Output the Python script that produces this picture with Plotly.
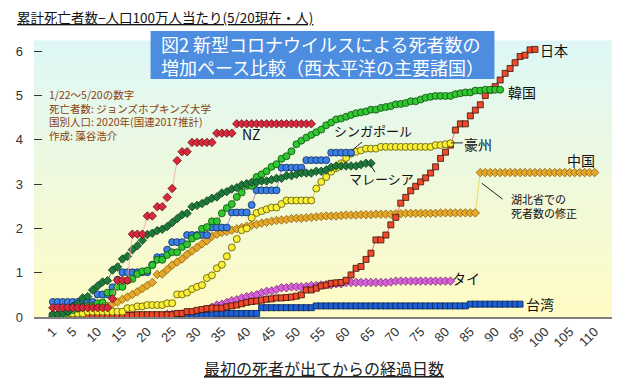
import plotly.graph_objects as go

# ---------------- data (deaths per million, by day since first death) ----------------
japan = [0.01, 0.01, 0.01, 0.01, 0.01, 0.01, 0.01, 0.01, 0.01, 0.01,
         0.01, 0.01, 0.01, 0.02, 0.03, 0.03, 0.04, 0.05, 0.05, 0.05,
         0.05, 0.05, 0.05, 0.05, 0.05, 0.08, 0.08, 0.12, 0.12, 0.15,
         0.17, 0.19, 0.20, 0.20, 0.20, 0.23, 0.25, 0.27, 0.30, 0.33,
         0.35, 0.36, 0.38, 0.40, 0.41, 0.43, 0.43, 0.44, 0.45, 0.47,
         0.50, 0.61, 0.61, 0.65, 0.70, 0.72, 0.76, 0.77, 0.78, 0.83,
         0.95, 1.10, 1.14, 1.30, 1.44, 1.74, 1.74, 1.85, 2.08, 2.25,
         2.57, 2.70, 2.85, 2.95, 3.05, 3.14, 3.25, 3.39, 3.58, 3.72,
         3.88, 4.22, 4.36, 4.36, 4.54, 4.67, 4.79, 5.00, 5.12, 5.20,
         5.35, 5.50, 5.61, 5.74, 5.88, 5.91, 6.03, 6.04]

korea = [0.02, 0.04, 0.04, 0.12, 0.16, 0.19, 0.23, 0.25, 0.25, 0.31,
         0.33, 0.55, 0.55, 0.68, 0.68, 0.82, 0.86, 0.97, 1.03, 1.05,
         1.17, 1.29, 1.29, 1.40, 1.46, 1.46, 1.58, 1.64, 1.77, 1.83,
         1.99, 2.03, 2.16, 2.16, 2.34, 2.46, 2.55, 2.71, 2.81, 2.96,
         2.96, 3.16, 3.22, 3.29, 3.39, 3.45, 3.57, 3.63, 3.74, 3.90,
         3.98, 4.05, 4.11, 4.17, 4.23, 4.33, 4.39, 4.46, 4.48, 4.52,
         4.56, 4.60, 4.62, 4.64, 4.68, 4.68, 4.72, 4.74, 4.76, 4.80,
         4.81, 4.83, 4.87, 4.87, 4.91, 4.95, 4.97, 4.99, 4.99, 4.99,
         4.99, 5.03, 5.05, 5.07, 5.07, 5.11, 5.11, 5.13, 5.13, 5.13, 5.13]

singapore = [0.34, 0.34, 0.34, 0.34, 0.34, 0.34, 0.34, 0.34, 0.34, 0.51,
             0.51, 0.51, 0.67, 0.84, 1.01, 1.01, 1.01, 1.01, 1.01, 1.01,
             1.18, 1.35, 1.35, 1.52, 1.69, 1.69, 1.69, 1.85, 1.85, 1.85,
             1.85, 1.85, 2.02, 2.02, 2.02, 2.02, 2.36, 2.36, 2.36, 2.36,
             2.53, 2.86, 2.86, 2.86, 2.86, 2.86, 3.37, 3.37, 3.37, 3.37,
             3.37, 3.54, 3.54, 3.54, 3.54, 3.54, 3.71, 3.71, 3.71, 3.71, 3.71]

australia = [0.04, 0.04, 0.04, 0.08, 0.08, 0.08, 0.08, 0.12, 0.12, 0.12,
             0.12, 0.12, 0.12, 0.12, 0.12, 0.20, 0.20, 0.24, 0.24, 0.27,
             0.27, 0.27, 0.27, 0.31, 0.31, 0.51, 0.51, 0.55, 0.63, 0.68,
             0.72, 0.88, 0.94, 1.10, 1.18, 1.37, 1.57, 1.76, 1.96, 2.00,
             2.24, 2.35, 2.39, 2.43, 2.47, 2.47, 2.55, 2.63, 2.63, 2.63,
             2.63, 2.63, 2.63, 2.90, 3.05, 3.16, 3.28, 3.36, 3.47, 3.59,
             3.69, 3.73, 3.76, 3.80, 3.80, 3.80, 3.84, 3.84, 3.84, 3.84,
             3.84, 3.84, 3.84, 3.84, 3.84, 3.84, 3.84, 3.88, 3.88, 3.90, 3.92]

malaysia = [0.06, 0.06, 0.09, 0.12, 0.24, 0.30, 0.43, 0.46, 0.61, 0.70,
            0.79, 0.82, 1.06, 1.13, 1.31, 1.37, 1.52, 1.61, 1.73, 1.86,
            1.89, 1.95, 1.98, 2.04, 2.13, 2.22, 2.31, 2.34, 2.49, 2.52,
            2.56, 2.62, 2.68, 2.71, 2.80, 2.83, 2.89, 2.92, 2.98, 3.01,
            3.04, 3.04, 3.07, 3.07, 3.10, 3.13, 3.13, 3.19, 3.19, 3.22,
            3.25, 3.25, 3.25, 3.29, 3.29, 3.32, 3.38, 3.41, 3.41, 3.41,
            3.41, 3.41, 3.44, 3.47, 3.47]

nz = [0.21, 0.21, 0.21, 0.21, 0.21, 0.21, 0.21, 0.21, 0.21, 0.21,
      0.21, 0.21, 0.41, 0.83, 0.83, 0.83, 1.87, 1.87, 1.87, 2.28,
      2.28, 2.49, 2.49, 2.70, 2.90, 3.53, 3.73, 3.73, 3.94, 3.94,
      3.94, 3.94, 3.94, 4.15, 4.15, 4.15, 4.15, 4.36, 4.36, 4.36,
      4.36, 4.36, 4.36, 4.36, 4.36, 4.36, 4.36, 4.36, 4.36, 4.36,
      4.36, 4.36, 4.36]

china = [0.01, 0.01, 0.02, 0.03, 0.04, 0.06, 0.09, 0.09, 0.12, 0.15,
         0.18, 0.25, 0.30, 0.34, 0.40, 0.45, 0.51, 0.57, 0.64, 0.71,
         0.78, 0.96, 0.97, 1.07, 1.17, 1.24, 1.31, 1.41, 1.49, 1.57,
         1.65, 1.72, 1.82, 1.87, 1.91, 1.93, 1.96, 1.99, 2.02, 2.05,
         2.07, 2.09, 2.12, 2.14, 2.16, 2.18, 2.19, 2.20, 2.22, 2.23,
         2.23, 2.24, 2.25, 2.26, 2.27, 2.28, 2.28, 2.28, 2.29, 2.30,
         2.30, 2.30, 2.31, 2.31, 2.31, 2.32, 2.32, 2.32, 2.32, 2.33,
         2.33, 2.34, 2.34, 2.34, 2.34, 2.34, 2.34, 2.34, 2.35, 2.35,
         2.35, 2.35, 2.35, 2.35, 2.35, 2.35, 3.26, 3.26, 3.26, 3.26,
         3.26, 3.26, 3.26, 3.26, 3.26, 3.26, 3.26, 3.26, 3.26, 3.26,
         3.26, 3.26, 3.26, 3.26, 3.26, 3.26, 3.26, 3.26, 3.26, 3.26]

thailand = [0.01, 0.01, 0.01, 0.01, 0.01, 0.01, 0.01, 0.01, 0.01, 0.01,
            0.01, 0.01, 0.01, 0.01, 0.01, 0.01, 0.01, 0.01, 0.01, 0.01,
            0.01, 0.01, 0.01, 0.06, 0.06, 0.06, 0.07, 0.09, 0.10, 0.10,
            0.14, 0.17, 0.22, 0.27, 0.29, 0.33, 0.37, 0.39, 0.43, 0.46,
            0.48, 0.50, 0.55, 0.58, 0.59, 0.62, 0.66, 0.66, 0.68, 0.68,
            0.68, 0.69, 0.71, 0.71, 0.72, 0.73, 0.73, 0.75, 0.75, 0.78,
            0.78, 0.78, 0.78, 0.78, 0.78, 0.78, 0.78, 0.78, 0.79, 0.81,
            0.81, 0.81, 0.81, 0.81, 0.81, 0.81, 0.81, 0.81, 0.81, 0.81, 0.81]

taiwan = [0.04, 0.04, 0.04, 0.04, 0.04, 0.04, 0.04, 0.04, 0.04, 0.04,
          0.04, 0.04, 0.04, 0.04, 0.04, 0.04, 0.04, 0.04, 0.04, 0.04,
          0.04, 0.04, 0.04, 0.04, 0.04, 0.04, 0.04, 0.04, 0.04, 0.04,
          0.04, 0.04, 0.04, 0.08, 0.08, 0.08, 0.08, 0.08, 0.08, 0.08,
          0.08, 0.08, 0.21, 0.21, 0.21, 0.21, 0.21, 0.21, 0.21, 0.21,
          0.21, 0.21, 0.21, 0.25, 0.25, 0.25, 0.25, 0.25, 0.25, 0.25,
          0.25, 0.25, 0.25, 0.25, 0.25, 0.25, 0.25, 0.25, 0.25, 0.25,
          0.25, 0.25, 0.25, 0.25, 0.25, 0.25, 0.25, 0.25, 0.25, 0.25,
          0.25, 0.25, 0.25, 0.25, 0.29, 0.29, 0.29, 0.29, 0.29, 0.29,
          0.29, 0.29, 0.29, 0.29, 0.29]

x_ticks = [1, 5, 10, 15, 20, 25, 30, 35, 40, 45, 50, 55, 60, 65, 70, 75, 80,
           85, 90, 95, 100, 105, 110]
y_ticks = [0, 1, 2, 3, 4, 5, 6]

# ---------------- figure ----------------
fig = go.Figure()

def days(vals):
    return list(range(1, len(vals) + 1))

def add(vals, symbol, size, fill, edge, linecolor, name):
    fig.add_trace(go.Scatter(
        x=days(vals), y=vals, mode="lines+markers", name=name,
        line=dict(color=linecolor, width=0.8),
        marker=dict(symbol=symbol, size=size, color=fill,
                    line=dict(color=edge, width=0.8)),
        hoverinfo="skip", cliponaxis=True))

add(china, "diamond", 6.5, "#e6a828", "#8a6010", "#f0d040", "中国")
add(thailand, "diamond", 6.5, "#d860d8", "#7a2a7a", "#d890d8", "タイ")
add(taiwan, "square", 6, "#1c5fd2", "#0a2458", "#1c5fd2", "台湾")
add(japan, "square", 6, "#f04a2a", "#3a1208", "#e06040", "日本")
add(australia, "circle", 7, "#f8f030", "#5a5010", "#d8c820", "豪州")
add(singapore, "circle", 7, "#3a80e6", "#102a5a", "#b070d0", "シンガポール")
add(korea, "circle", 7, "#30c830", "#104a10", "#30a030", "韓国")
add(malaysia, "diamond", 6.5, "#1e7a3c", "#0c3a1a", "#1e7a3c", "マレーシア")
add(nz, "diamond", 6.5, "#d82a3c", "#6a1018", "#f0a0b0", "NZ")

# gradient background made of thin bands
shapes = []
n = 48
top = (222, 247, 246)
bot = (255, 251, 196)
for i in range(n):
    t = i / (n - 1)
    c = tuple(round(top[k] + (bot[k] - top[k]) * t) for k in range(3))
    y1 = 1 - i / n
    y0 = 1 - (i + 1) / n
    shapes.append(dict(type="rect", xref="paper", yref="paper", x0=0, x1=1,
                       y0=y0, y1=y1 + 0.002, line=dict(width=0),
                       fillcolor="rgb(%d,%d,%d)" % c, layer="below"))

# blue title box
shapes.append(dict(type="rect", xref="paper", yref="paper",
                   x0=0.2017, x1=0.7966, y0=0.862, y1=1.036,
                   line=dict(width=0), fillcolor="#4d8de0", layer="above"))

# leader lines (data coordinates)
lead = dict(color="#222", width=1)
shapes += [
    dict(type="line", xref="x", yref="y", x0=81.1, y0=3.93, x1=83.5, y1=3.93, line=lead),
    dict(type="line", xref="x", yref="y", x0=63.2, y0=3.95, x1=61.2, y1=3.76, line=lead),
    dict(type="line", xref="x", yref="y", x0=64.8, y0=3.45, x1=65.8, y1=3.27, line=lead),
    dict(type="line", xref="x", yref="y", x0=87.3, y0=3.02, x1=91.5, y1=2.66, line=lead),
]

jp = "Noto Sans CJK JP"
ann = []
ann.append(dict(xref="paper", yref="paper", x=-0.033, y=1.087, xanchor="left",
                yanchor="middle", showarrow=False,
                text="<u>累計死亡者数−人口100万人当たり(5/20現在・人)</u>",
                font=dict(family=jp, size=13.5, color="#111")))
ann.append(dict(xref="paper", yref="paper", x=0.4992, y=0.949, xanchor="center",
                yanchor="middle", showarrow=False, align="left",
                text="図2 新型コロナウイルスによる死者数の<br>増加ペース比較（西太平洋の主要諸国）",
                font=dict(family=jp, size=18, color="white")))
ann.append(dict(xref="paper", yref="paper", x=0.502, y=-0.185, xanchor="center",
                yanchor="middle", showarrow=False,
                text="<u>最初の死者が出てからの経過日数</u>",
                font=dict(family=jp, size=16, color="#222")))
ann.append(dict(xref="paper", yref="paper", x=0.022, y=0.84, xanchor="left",
                yanchor="top", showarrow=False, align="left",
                text="1/22～5/20の数字<br>死亡者数: ジョンズホプキンズ大学<br>国別人口: 2020年(国連2017推計)<br>作成: 藻谷浩介",
                font=dict(family=jp, size=10.5, color="#8a4010")))

labels = [
    ("日本", 101.9, 6.03, "center", 14),
    ("韓国", 95.4, 5.08, "center", 14),
    ("豪州", 86.6, 3.90, "center", 14),
    ("中国", 107.2, 3.54, "center", 14),
    ("タイ", 84.1, 0.88, "center", 14),
    ("台湾", 99.0, 0.29, "center", 14),
    ("NZ", 41.0, 4.13, "center", 14),
    ("シンガポール", 65.4, 4.20, "center", 13),
    ("マレーシア", 67.2, 3.12, "center", 13),
]
for t, x, y, xa, fs in labels:
    ann.append(dict(xref="x", yref="y", x=x, y=y, xanchor=xa, yanchor="middle",
                    showarrow=False, text=t,
                    font=dict(family=jp, size=fs, color="#111")))
ann.append(dict(xref="x", yref="y", x=92.8, y=2.5, xanchor="left", yanchor="middle",
                showarrow=False, align="left", text="湖北省での<br>死者数の修正",
                font=dict(family=jp, size=11, color="#111")))

# page body has an 8px margin, so the figure is sized to fill the rest of the window
fig.update_layout(
    width=612, height=381,
    margin=dict(l=19, r=8, t=33, b=72),
    paper_bgcolor="white", plot_bgcolor="rgba(0,0,0,0)",
    showlegend=False,
    shapes=shapes, annotations=ann,
    font=dict(family="Liberation Sans, Arial, sans-serif"),
    xaxis=dict(range=[-2.8, 113.5], tickvals=x_ticks,
               ticktext=[str(v) for v in x_ticks], tickangle=-45,
               showgrid=False, zeroline=False, showline=True,
               linecolor="#808080", linewidth=2, ticks="",
               tickfont=dict(size=13, color="#333")),
    yaxis=dict(range=[0, 6.23], tickvals=y_ticks, showgrid=False,
               zeroline=False, showline=False, ticks="inside", ticklen=8,
               tickcolor="#333", tickwidth=1, ticklabelstandoff=10,
               tickfont=dict(size=13, color="#333")),
)

fig.write_html("out.html")
